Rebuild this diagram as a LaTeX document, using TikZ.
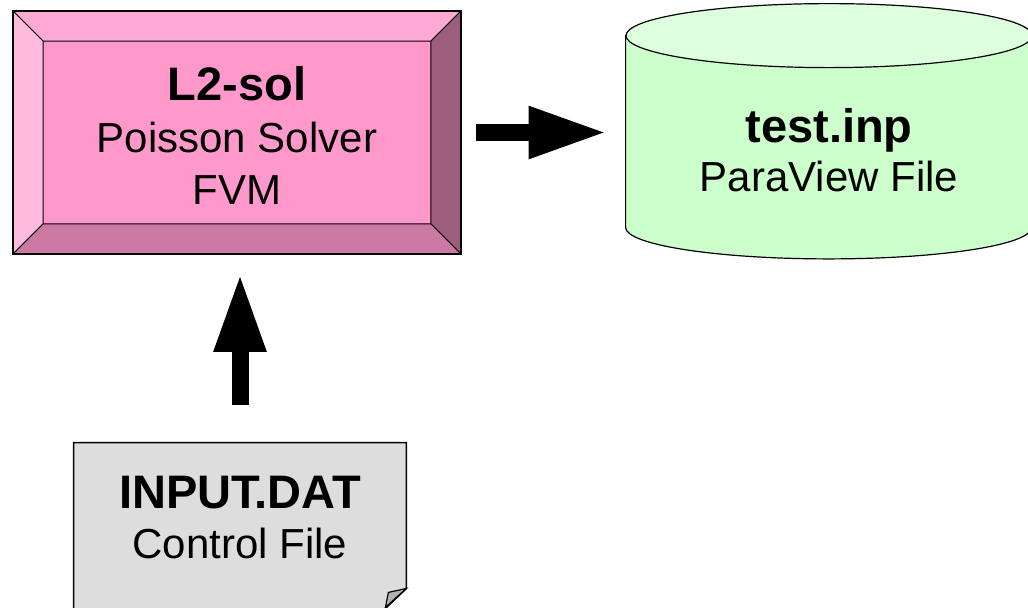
\documentclass[tikz,border=0pt]{standalone}
\usepackage{fontspec}
\setmainfont{Liberation Sans}
\usepackage{xcolor}
\usetikzlibrary{positioning, arrows.meta, backgrounds}
\definecolor{solvermid}{HTML}{FF99CC}
\definecolor{solvertop}{HTML}{FFAAD5}
\definecolor{solverleft}{HTML}{FFBBDD}
\definecolor{solverright}{HTML}{9D5E7E}
\definecolor{solverbottom}{HTML}{CC7AA3}
\definecolor{cylbody}{HTML}{CCFFCC}
\definecolor{cyltop}{HTML}{DDFFDD}
\definecolor{docgray}{HTML}{DDDDDD}
\definecolor{foldgray}{HTML}{B2B2B2}

\begin{document}
\begin{tikzpicture}[x=0.5pt, y=0.5pt,
    boxtext/.style={align=center, inner sep=0pt, anchor=base,
                    font=\fontsize{21pt}{25pt}\selectfont},
    bevel/.style={draw=black, line width=0.5pt},
    blockarrow/.style={line width=8.5pt, -{Triangle[length=39.5pt, width=24pt]}}]
    \useasboundingbox (0,0) rectangle (1028,-607);

    \node[boxtext, fill=solvermid, draw, line width=0.8pt, minimum width=223pt,
          text height=96pt, text depth=24.5pt] (solver) at (237,-204)
        {{\fontsize{23.5pt}{25pt}\selectfont\bfseries L2-sol}\\[1pt]Poisson Solver\\[1pt]FVM};
    \fill[bevel, fill=solvertop] (solver.north west) -- (solver.north east)
        -- ([shift={(-15pt,-15pt)}]solver.north east) -- ([shift={(15pt,-15pt)}]solver.north west) -- cycle;
    \fill[bevel, fill=solverleft] (solver.north west) -- ([shift={(15pt,-15pt)}]solver.north west)
        -- ([shift={(15pt,15pt)}]solver.south west) -- (solver.south west) -- cycle;
    \fill[bevel, fill=solverright] (solver.north east) -- (solver.south east)
        -- ([shift={(-15pt,15pt)}]solver.south east) -- ([shift={(-15pt,-15pt)}]solver.north east) -- cycle;
    \fill[bevel, fill=solverbottom] (solver.south west) -- ([shift={(15pt,15pt)}]solver.south west)
        -- ([shift={(-15pt,15pt)}]solver.south east) -- (solver.south east) -- cycle;
    \draw[line width=0.8pt] (solver.north west) rectangle (solver.south east);

    \node[boxtext, minimum width=203pt, text height=77.5pt, text depth=18pt] (paraview) at (829,-191)
        {{\fontsize{23.5pt}{25pt}\selectfont\bfseries test.inp}\\[-0.5pt]ParaView File};

    \node[boxtext, minimum width=166pt, text height=57.5pt, text depth=25.5pt] (ctrl) at (240,-558)
        {{\fontsize{23.5pt}{25pt}\selectfont\bfseries INPUT.DAT}\\Control File};

    \begin{scope}[on background layer]
        \draw[fill=cylbody, line width=0.6pt] (paraview.north west) -- (paraview.south west)
            arc[start angle=180, end angle=360, x radius=101.5pt, y radius=15.75pt]
            -- (paraview.north east) -- cycle;
        \draw[fill=cyltop, line width=0.6pt] (paraview.north) ellipse [x radius=101.5pt, y radius=16pt];
        \draw[fill=docgray, line width=0.8pt] (ctrl.north west) -- (ctrl.north east)
            -- ([yshift=10.5pt]ctrl.south east) -- ([xshift=-11pt]ctrl.south east)
            -- (ctrl.south west) -- cycle;
        \draw[fill=foldgray, line width=0.6pt] ([yshift=10.5pt]ctrl.south east)
            -- ([shift={(-9pt,8.5pt)}]ctrl.south east) -- ([shift={(-10.5pt,1pt)}]ctrl.south east) -- cycle;
    \end{scope}

    \draw[blockarrow, shorten <=7.5pt, shorten >=9pt] (solver.east) -- (solver.east -| paraview.west);
    \draw[blockarrow, shorten <=19pt, shorten >=9.5pt] (ctrl.north) -- (ctrl.north |- solver.south);
\end{tikzpicture}
\end{document}
